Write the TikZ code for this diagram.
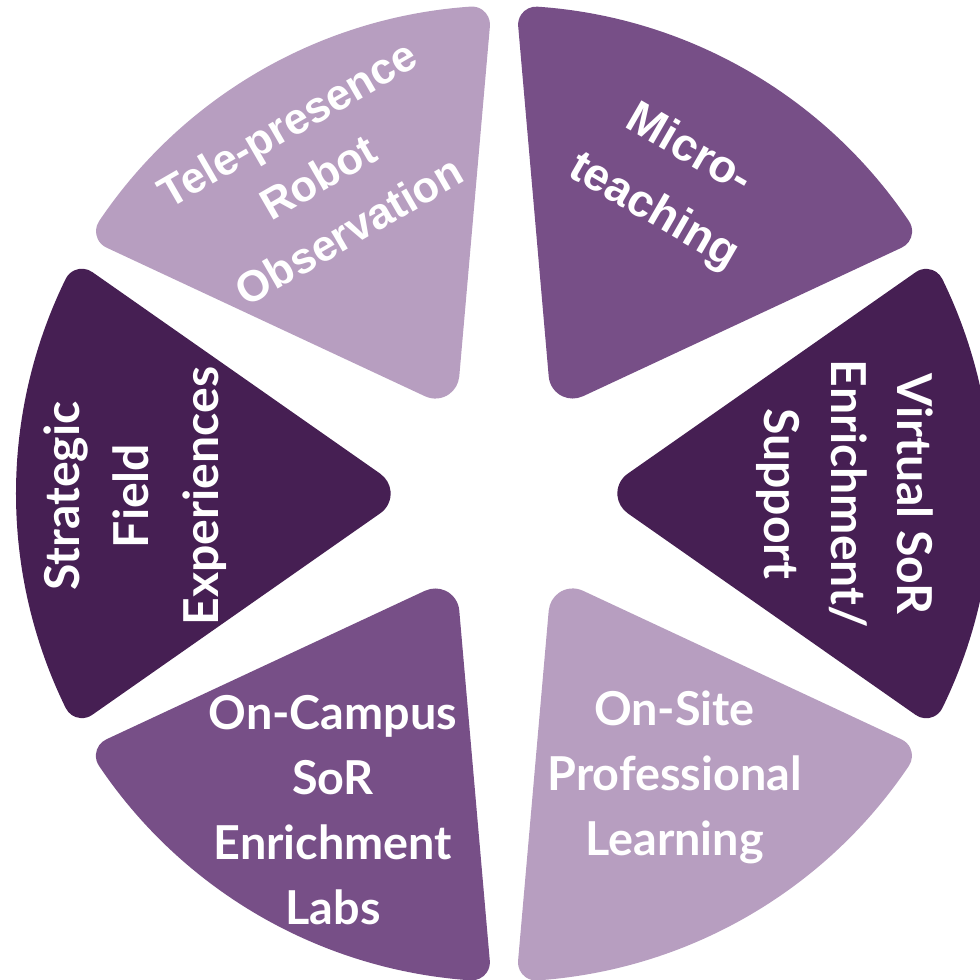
\documentclass[tikz,border=0pt]{standalone}
\usepackage{fontspec}
\usepackage{tikz}

\newfontfamily\robfont{Lato}
\newfontfamily\arfont{Liberation Sans}
\definecolor{lightlav}{RGB}{183,158,192}
\definecolor{midplum}{RGB}{119,79,135}
\definecolor{darkplum}{RGB}{70,31,83}

\begin{document}
\begin{tikzpicture}[
    wedge/.pic={
      \path[pic actions] (1.236,-0.197) -- (4.118,-2.215)
        arc[start angle=235, end angle=333.91, radius=0.18]
        arc[start angle=-26.09, end angle=26.09, radius=4.88]
        arc[start angle=26.09, end angle=125, radius=0.18]
        -- (1.236,0.197)
        arc[start angle=125, end angle=235, radius=0.24] -- cycle;
    },
    lbl/.style={text=white, align=center, inner sep=0pt,
      font=\robfont\bfseries\fontsize{13.3}{18.5}\selectfont},
    toplbl/.style={text=white, align=center, inner sep=0pt,
      font=\arfont\bfseries\fontsize{12.4}{17.6}\selectfont}]
  \path[use as bounding box] (0,0) rectangle (9.8,9.8);
  \clip (0,0) rectangle (9.8,9.8);
  \coordinate (hub) at (5.04,4.865);

  % six slices round the hub
  \pic[fill=darkplum, rotate=180] (field) at (hub) {wedge};
  \pic[fill=lightlav, rotate=120] (robot) at (hub) {wedge};
  \pic[fill=midplum, rotate=60] (micro) at (hub) {wedge};
  \pic[fill=darkplum, rotate=0] (virtual) at (hub) {wedge};
  \pic[fill=lightlav, rotate=-60] (onsite) at (hub) {wedge};
  \pic[fill=midplum, rotate=-120] (campus) at (hub) {wedge};

  % labels
  \node[toplbl, rotate=30] (robottext) at (3.18,8.03) {Tele-presence\\Robot\\Observation};
  \node[toplbl, rotate=-30, font=\arfont\bfseries\fontsize{13}{20}\selectfont] (microtext) at (6.71,7.985) {Micro-\\teaching};
  \node[lbl, rotate=90, font=\robfont\bfseries\fontsize{13.7}{19.8}\selectfont] (fieldtext) at (1.35,4.84) {Strategic\\Field\\Experiences};
  \node[lbl, rotate=-90, font=\robfont\bfseries\fontsize{13.7}{19}\selectfont] (virtualtext) at (8.45,4.86) {Virtual SoR\\Enrichment/\\Support};
  \node[lbl] (onsitetext) at (6.745,2.025) {On-Site\\Professional\\Learning};
  \node[lbl] (campustext) at (3.33,1.70) {On-Campus\\SoR\\Enrichment\\Labs};
\end{tikzpicture}
\end{document}
